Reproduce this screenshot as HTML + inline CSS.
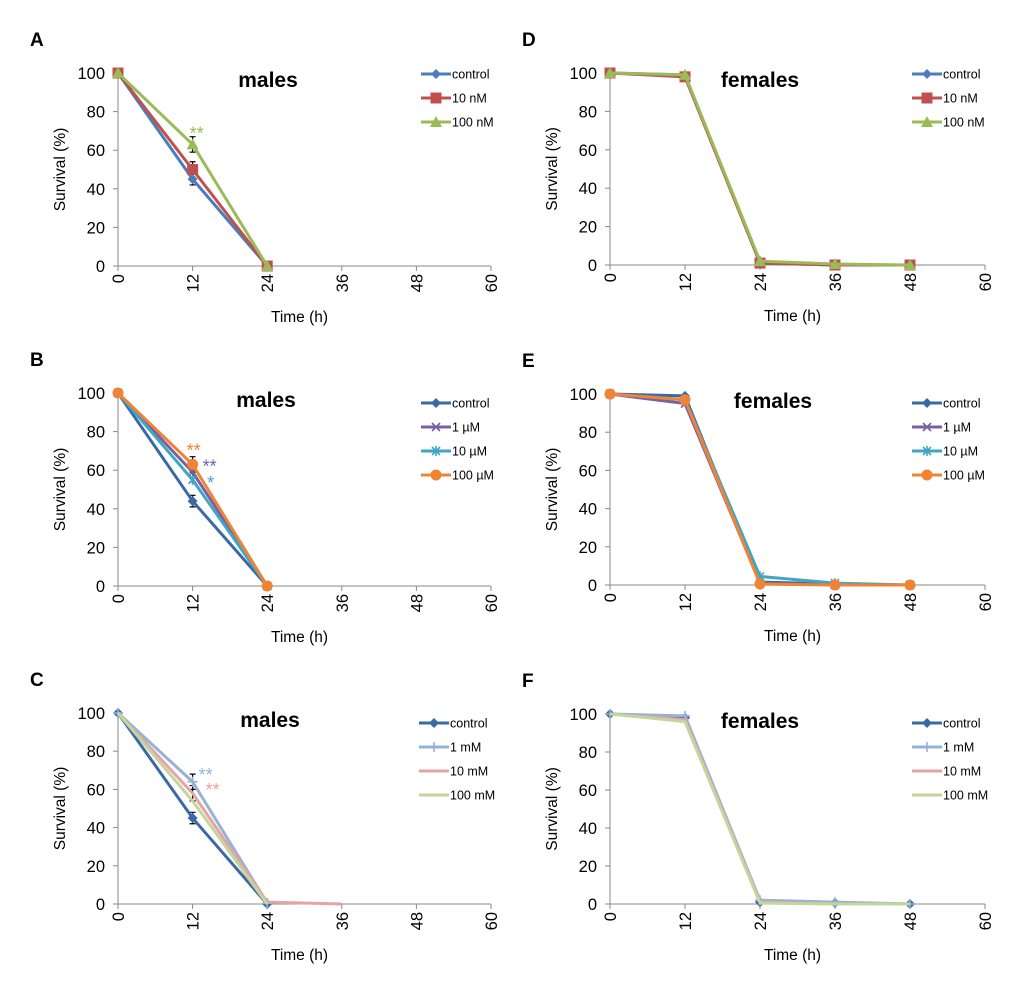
<!DOCTYPE html>
<html><head><meta charset="utf-8">
<style>
html,body{margin:0;padding:0;background:#fff;}
svg{display:block;font-family:"Liberation Sans",sans-serif;}
</style></head>
<body>
<svg id="fig" width="1020" height="1003" viewBox="0 0 1020 1003" xmlns="http://www.w3.org/2000/svg"></svg>
<script>
const xTicks=[0,12,24,36,48,60];
const yTicks=[0,20,40,60,80,100];
const tA=[0,12,24];
const tF=[0,12,24,36,48];
const tC10=[0,12,24,36];
// Panel A
const aControl=[100,45,0], a10nM=[100,50,0], a100nM=[100,63,0];
// Panel B
const bControl=[100,44,0], b1uM=[100,59,0], b10uM=[100,55,0], b100uM=[100,63,0];
// Panel C
const cControl=[100,45,0], c1mM=[100,64,0.5], c10mM=[100,58,1,0], c100mM=[100,54,0];
// Panel D
const dControl=[100,99,1,0,0], d10nM=[100,98,1,0,0], d100nM=[100,99,2,0.5,0];
// Panel E
const eControl=[100,99,1.5,0.5,0], e1uM=[100,95,1,0,0], e10uM=[100,97,4.5,1,0], e100uM=[100,97,0.5,0,0];
// Panel F
const fControl=[100,98,1,0.5,0], f1mM=[100,99,2,1,0], f10mM=[100,97,1,0,0], f100mM=[100,96,0.5,0,0];

const NS="http://www.w3.org/2000/svg";
const svg=document.getElementById('fig');
function el(tag,attrs,parent){const e=document.createElementNS(NS,tag);for(const k in attrs)e.setAttribute(k,attrs[k]);(parent||svg).appendChild(e);return e;}

function marker(g,type,x,y,c){
  let m;
  if(type==='diamond') m=el('polygon',{points:`${x},${y-5} ${x+5},${y} ${x},${y+5} ${x-5},${y}`,fill:c},g);
  else if(type==='square') m=el('rect',{x:x-5.5,y:y-5.5,width:11,height:11,fill:c},g);
  else if(type==='triangle') m=el('polygon',{points:`${x},${y-6} ${x+6},${y+5} ${x-6},${y+5}`,fill:c},g);
  else if(type==='circle') m=el('circle',{cx:x,cy:y,r:5.5,fill:c},g);
  else if(type==='x') m=el('path',{d:`M${x-4},${y-4}L${x+4},${y+4}M${x-4},${y+4}L${x+4},${y-4}`,stroke:c,'stroke-width':1.6,fill:'none'},g);
  else if(type==='star') m=el('path',{d:`M${x-4},${y-4}L${x+4},${y+4}M${x-4},${y+4}L${x+4},${y-4}M${x},${y-5}L${x},${y+5}`,stroke:c,'stroke-width':1.6,fill:'none'},g);
  else if(type==='plus') m=el('path',{d:`M${x-5},${y}L${x+5},${y}M${x},${y-5}L${x},${y+5}`,stroke:c,'stroke-width':1.6,fill:'none'},g);
  if(m){}
}

function panel(cfg){
  const g=el('g',{});
  
  
  const X=v=>cfg.x0+(v/60)*(cfg.x1-cfg.x0);
  const Y=v=>cfg.y0-(v/100)*(cfg.y0-cfg.y100);
  const lt=el('text',{x:cfg.x0-88,y:cfg.y100-27,'font-size':19,'font-weight':'bold',fill:'#000'},g);
  lt.textContent=cfg.letter;
  const ya=el('line',{x1:cfg.x0,y1:cfg.y100,x2:cfg.x0,y2:cfg.y0+5,stroke:'#888','stroke-width':1},g);
  
  const xa=el('line',{x1:cfg.x0,y1:cfg.y0,x2:cfg.x1,y2:cfg.y0,stroke:'#888','stroke-width':1},g);
  
  yTicks.forEach(v=>{
    el('line',{x1:cfg.x0-5,y1:Y(v),x2:cfg.x0,y2:Y(v),stroke:'#888'},g);
    const t=el('text',{x:cfg.x0-13,y:Y(v)+6,'font-size':16.5,'text-anchor':'end',fill:'#000'},g);
    t.textContent=v;
  });
  xTicks.forEach(v=>{
    el('line',{x1:X(v),y1:cfg.y0,x2:X(v),y2:cfg.y0+5,stroke:'#888'},g);
    const t=el('text',{x:0,y:0,'font-size':16.5,'text-anchor':'end',fill:'#000',transform:`translate(${X(v)+6},${cfg.y0+8}) rotate(-90)`},g);
    t.textContent=v;
  });
  const xt=el('text',{x:(cfg.x0+cfg.x1)/2-5,y:cfg.y0+56,'font-size':15.5,'text-anchor':'middle',fill:'#000'},g);
  xt.textContent='Time (h)';
  const yt=el('text',{x:0,y:0,'font-size':15.5,'text-anchor':'middle',fill:'#000',transform:`translate(${cfg.x0-53},${(cfg.y0+cfg.y100)/2}) rotate(-90)`},g);
  yt.textContent='Survival (%)';
  const tt=el('text',{x:cfg.titleX,y:cfg.y100+14,'font-size':21,'font-weight':'bold','text-anchor':'middle',fill:'#000'},g);
  tt.textContent=cfg.title;
  (cfg.errs||[]).forEach(e=>{
    const eb=el('path',{d:`M${X(e[0])},${Y(e[1]+e[2])}V${Y(e[1]-e[2])}M${X(e[0])-3},${Y(e[1]+e[2])}h6M${X(e[0])-3},${Y(e[1]-e[2])}h6`,stroke:'#000','stroke-width':1.2,fill:'none'},g);
    
  });
  cfg.series.forEach((s,i)=>{
    const pts=s.vals.map((v,j)=>`${X(s.t[j])},${Y(v)}`).join(' ');
    const pl=el('polyline',{points:pts,fill:'none',stroke:s.c,'stroke-width':3,'stroke-linejoin':'round'},g);
    
    
    s.vals.forEach((v,j)=>marker(g,s.m,X(s.t[j]),Y(v),s.c));
    const ly=cfg.y100+cfg.legOff+i*24;
    const lg=el('g',{},g);
    
    el('line',{x1:cfg.legX,y1:ly,x2:cfg.legX+30,y2:ly,stroke:s.c,'stroke-width':3},lg);
    marker(lg,s.m,cfg.legX+15,ly,s.c);
    const lt2=el('text',{x:cfg.legX+31,y:ly+4.5,'font-size':12.5,fill:'#000'},lg);
    lt2.textContent=s.name;
  });
  (cfg.stars||[]).forEach(st=>{
    const t=el('text',{x:X(st[0])+st[3],y:Y(st[1])+st[4]+3,'font-size':18,fill:st[2],'text-anchor':'middle'},g);
    t.textContent=st[5];
  });
}

const L={x0:118,x1:491}, R={x0:610,x1:985};
panel({letter:'A',...L,y100:73,y0:266,title:'males',titleX:268,legX:421,legOff:1,
  errs:[[12,45,3],[12,50,4],[12,63,4]],
  series:[{name:'control',vals:aControl,t:tA,c:'#4a7ebb',m:'diamond'},
          {name:'10 nM',vals:a10nM,t:tA,c:'#c0504d',m:'square'},
          {name:'100 nM',vals:a100nM,t:tA,c:'#9bbb59',m:'triangle'}],
  stars:[[12,63,'#9bbb59',4,-8,'**']]});
panel({letter:'B',...L,y100:393,y0:586,title:'males',titleX:266,legX:421,legOff:10,
  errs:[[12,44,3],[12,58,4],[12,63,4]],
  series:[{name:'control',vals:bControl,t:tA,c:'#3a6aa6',m:'diamond'},
          {name:'1 µM',vals:b1uM,t:tA,c:'#7b5ea5',m:'x'},
          {name:'10 µM',vals:b10uM,t:tA,c:'#3fa6c3',m:'star'},
          {name:'100 µM',vals:b100uM,t:tA,c:'#ee8434',m:'circle'}],
  stars:[[12,63,'#ee8434',1,-11,'**'],[12,63,'#7b5ea5',17,5,'**'],[12,57,'#3fa6c3',18,10,'*']]});
panel({letter:'C',...L,y100:713,y0:904,title:'males',titleX:270,legX:419,legOff:10,
  errs:[[12,45,3],[12,58,4],[12,64,4]],
  series:[{name:'control',vals:cControl,t:tA,c:'#3a6aa6',m:'diamond'},
          {name:'1 mM',vals:c1mM,t:tA,c:'#95b3d7',m:'plus'},
          {name:'10 mM',vals:c10mM,t:tC10,c:'#e6a3a3',m:'none'},
          {name:'100 mM',vals:c100mM,t:tA,c:'#c3d69b',m:'none'}],
  stars:[[12,64,'#95b3d7',13,-4,'**'],[12,58,'#e6a3a3',20,0,'**']]});
panel({letter:'D',...R,y100:73,y0:265,title:'females',titleX:760,legX:912,legOff:1,
  series:[{name:'control',vals:dControl,t:tF,c:'#4a7ebb',m:'diamond'},
          {name:'10 nM',vals:d10nM,t:tF,c:'#c0504d',m:'square'},
          {name:'100 nM',vals:d100nM,t:tF,c:'#9bbb59',m:'triangle'}]});
panel({letter:'E',...R,y100:394,y0:585,title:'females',titleX:773,legX:912,legOff:9,
  series:[{name:'control',vals:eControl,t:tF,c:'#3a6aa6',m:'diamond'},
          {name:'1 µM',vals:e1uM,t:tF,c:'#7b5ea5',m:'x'},
          {name:'10 µM',vals:e10uM,t:tF,c:'#3fa6c3',m:'star'},
          {name:'100 µM',vals:e100uM,t:tF,c:'#ee8434',m:'circle'}]});
panel({letter:'F',...R,y100:714,y0:904,title:'females',titleX:760,legX:912,legOff:9,
  series:[{name:'control',vals:fControl,t:tF,c:'#3a6aa6',m:'diamond'},
          {name:'1 mM',vals:f1mM,t:tF,c:'#95b3d7',m:'plus'},
          {name:'10 mM',vals:f10mM,t:tF,c:'#e6a3a3',m:'none'},
          {name:'100 mM',vals:f100mM,t:tF,c:'#c3d69b',m:'none'}]});
</script>
</body></html>
